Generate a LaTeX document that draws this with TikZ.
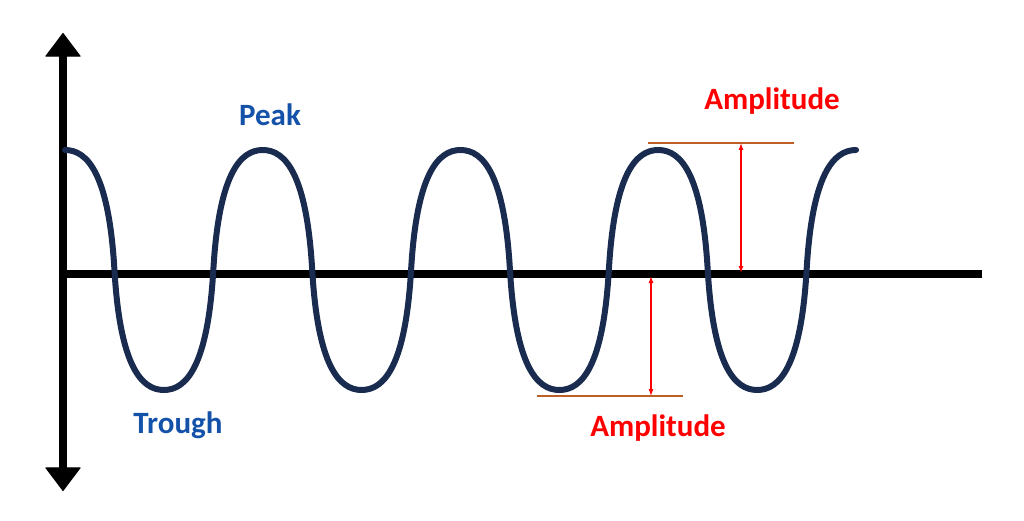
\documentclass[tikz,border=0pt]{standalone}
\usepackage{fontspec}
\setmainfont{Carlito}
\usetikzlibrary{arrows.meta}
\definecolor{wavecol}{RGB}{25,44,80}
\definecolor{labblue}{RGB}{20,82,170}
\definecolor{ampred}{RGB}{255,0,0}
\definecolor{refbrown}{RGB}{190,95,40}
\tikzset{
  axisline/.style={line width=8.5pt, black},
  bigtip/.style={-{Triangle[width=36pt,length=24pt,round,line width=1pt]}},
  wave/.style={line width=6pt, wavecol, line cap=round},
  reflevel/.style={line width=1.5pt, refbrown},
  amparrow/.style={line width=1.2pt, ampred, {Latex[length=7pt,width=5pt]}-{Latex[length=7pt,width=5pt]}},
  lab/.style={font=\fontsize{31}{37}\selectfont\bfseries, inner sep=0pt, anchor=base},
}
\begin{document}
\begin{tikzpicture}[x=1pt,y=-1pt]
\useasboundingbox (0,0) rectangle (1024,521);
% axes
\coordinate (ymid) at (63,262);
\coordinate (ytop) at (63,33);
\coordinate (ybot) at (63,491);
\coordinate (xl) at (59,274);
\coordinate (xr) at (982,274);
\draw[axisline, bigtip] (ymid) -- (ytop);
\draw[axisline, bigtip] (ymid) -- (ybot);
\draw[axisline] (xl) -- (xr);
% wave
\def\q{49.44}
\draw[wave] (65,150)
 \foreach \k in {0,1,2,3}{
   .. controls ({65+4*\q*\k+23},150) and ({65+4*\q*\k+\q-5.5},175) .. ({65+4*\q*\k+\q},270)
   .. controls ({65+4*\q*\k+\q+5.5},365) and ({65+4*\q*\k+2*\q-23},390) .. ({65+4*\q*\k+2*\q},390)
   .. controls ({65+4*\q*\k+2*\q+23},390) and ({65+4*\q*\k+3*\q-5.5},365) .. ({65+4*\q*\k+3*\q},270)
   .. controls ({65+4*\q*\k+3*\q+5.5},175) and ({65+4*\q*\k+4*\q-23},150) .. ({65+4*\q*\k+4*\q},150)
 };
% reference levels
\coordinate (tl) at (648,143);
\coordinate (tr) at (794,143);
\coordinate (bl) at (537,396);
\coordinate (br) at (683,396);
\draw[reflevel] (tl) -- (tr);
\draw[reflevel] (bl) -- (br);
% amplitude arrows
\coordinate (a1t) at (741,143);
\coordinate (a1b) at (741,273);
\coordinate (a2t) at (651,276);
\coordinate (a2b) at (651,396);
\draw[amparrow] (a1t) -- (a1b);
\draw[amparrow] (a2t) -- (a2b);
% labels
\node[lab, labblue] (peak) at (270,126) {Peak};
\node[lab, labblue] (trough) at (178,433) {Trough};
\node[lab, ampred] (amptop) at (772,110) {Amplitude};
\node[lab, ampred] (ampbot) at (658,436) {Amplitude};
\end{tikzpicture}
\end{document}
